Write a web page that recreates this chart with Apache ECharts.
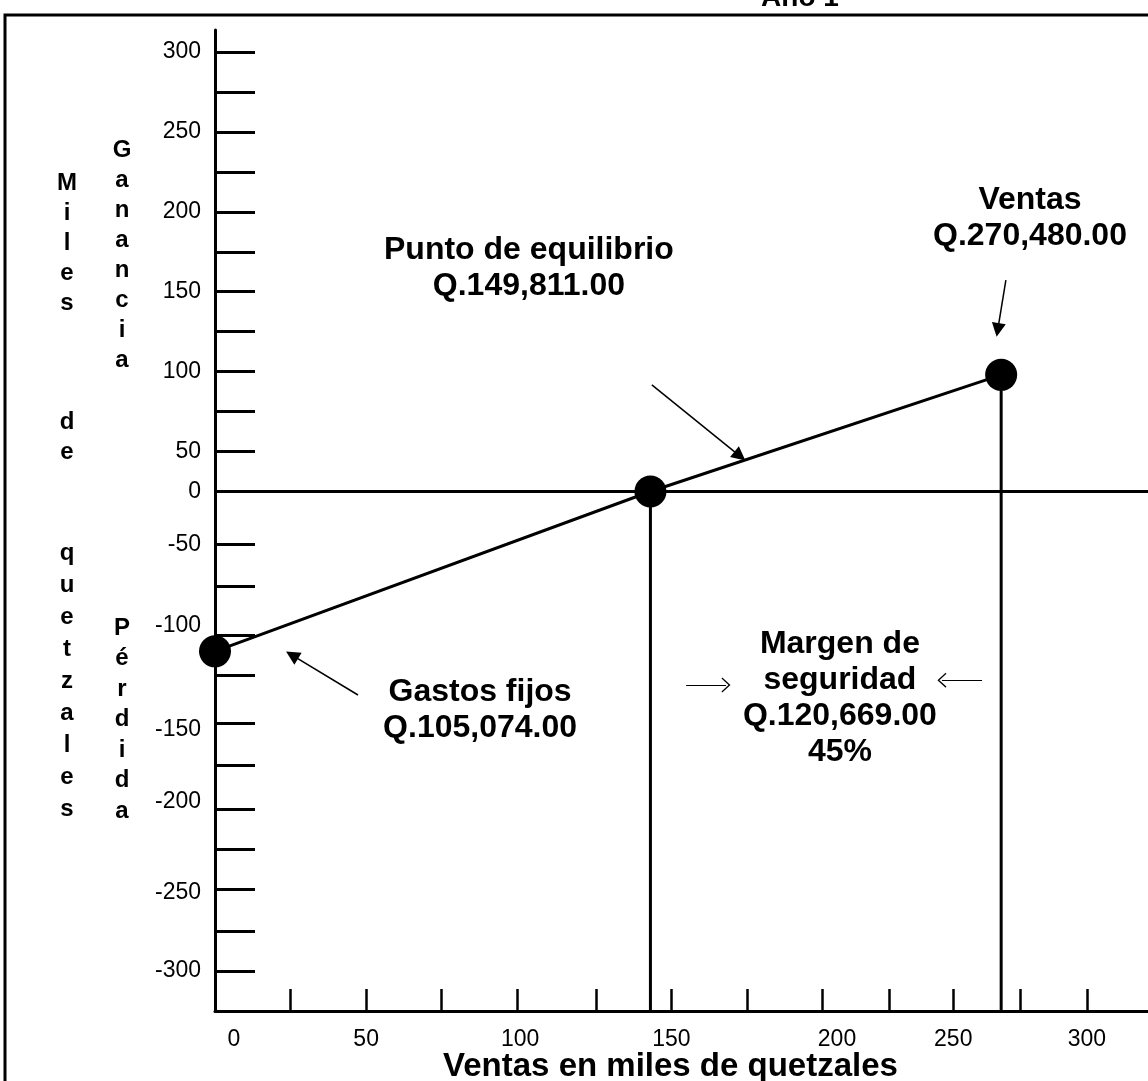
<!DOCTYPE html>
<html>
<head>
<meta charset="utf-8">
<title>Punto de equilibrio - Año 1</title>
<script src="https://cdn.jsdelivr.net/npm/echarts@6.0.0/dist/echarts.min.js"></script>
<style>
  html, body { margin: 0; padding: 0; background: #fff; }
  #chart { width: 1148px; height: 1081px; }
</style>
</head>
<body>
<div id="chart"></div>
<script>
// ventas en miles de Q y resultado (ganancia / pérdida)
const ventas = [0, 149.811, 270.48]
const resultado = [-100, 0, 73]

// marcas y etiquetas de los ejes (el dibujo original no es regular)
const yTicks = [275, 250, 225, 200, 175, 150, 125, 100, 75, 50, 25, -33, -59, -90, -115, -145, -171, -199, -224, -249, -275, -300]
const yLabelPos = [275, 225, 175, 125, 75, 25, 0, -33, -84, -149, -194, -251, -300]
const yLabels = ['300', '250', '200', '150', '100', '50', '0', '-50', '-100', '-150', '-200', '-250', '-300']
const xTicks = [26, 52, 78, 104, 131, 157, 183, 209, 232, 254, 277, 300]
const xLabelPos = [6.5, 52, 105, 157, 214, 254, 300]
const xLabels = ['0', '50', '100', '150', '200', '250', '300']

// textos de las anotaciones
const notas = ['Punto de equilibrio\nQ.149,811.00', 'Ventas\nQ.270,480.00', 'Gastos fijos\nQ.105,074.00', 'Margen de\nseguridad\nQ.120,669.00\n45%']
const notasPos = [[108, 140], [280.4, 171], [91.2, -137], [215, -129]]
// flechas: desde / hasta
const flechasDesde = [[150.3, 66.7], [272.1, 132.3], [49.2, -127.3]]
const flechasHasta = [[180.6, 22.2], [269.3, 101.1], [26.5, -102.3]]
// flechas finas del margen de seguridad
const margenDesde = [[162.1, -121], [263.9, -118]]
const margenHasta = [[175.8, -121], [250.1, -118]]

const yMin = -325
const FONT = '"Liberation Sans", Arial, sans-serif'
const negro = '#000'
// punta abierta (chevron) para las flechas finas
const chevron = 'path://M0,10 L10,0 L20,10 L18.6,11 L10,2.4 L1.4,11 Z'

const chart = echarts.init(document.getElementById('chart'))

function columna(texto, x, y, alto) {
    return {
        type: 'text', x: x, y: y,
        style: { text: texto.split('').join('\n'), textAlign: 'center', font: 'bold 24px ' + FONT, lineHeight: alto || 30, fill: negro }
    }
}

chart.setOption({
    animation: false,
    backgroundColor: '#fff',
    grid: { left: 215, right: 0, top: 30, bottom: 70, outerBoundsMode: 'none' },
    xAxis: {
        type: 'value',
        min: 0,
        max: 321,
        axisLine: { onZero: false, lineStyle: { color: negro, width: 3 } },
        axisTick: { inside: true, length: 22, customValues: xTicks, lineStyle: { color: negro, width: 2.5 } },
        axisLabel: {
            customValues: xLabelPos,
            formatter: v => xLabels[xLabelPos.indexOf(v)] || '',
            color: negro, fontSize: 23, fontFamily: FONT, margin: 17
        },
        splitLine: { show: false },
        name: 'Ventas en miles de quetzales',
        nameLocation: 'middle',
        nameGap: 39,
        nameMoveOverlap: false,
        nameTextStyle: { color: negro, fontSize: 33, fontWeight: 'bold', fontFamily: FONT, padding: [0, 22, 0, 0] }
    },
    yAxis: {
        type: 'value',
        min: yMin,
        max: 288.75,
        axisLine: { onZero: false, lineStyle: { color: negro, width: 3 } },
        axisTick: { inside: true, length: 40, customValues: yTicks, lineStyle: { color: negro, width: 3 } },
        axisLabel: {
            customValues: yLabelPos,
            formatter: v => {
                const i = yLabelPos.indexOf(v)
                return i < 0 ? '' : yLabels[i]
            },
            color: negro, fontSize: 23, fontFamily: FONT, margin: 14
        },
        splitLine: { show: false }
    },
    graphic: [
        {
            type: 'rect', z: 100, silent: true,
            shape: { x: 5, y: 15, width: 1400, height: 1400 },
            style: { fill: 'none', stroke: negro, lineWidth: 3 }
        },
        {
            type: 'text', x: 800, y: -16,
            style: { text: 'Año 1', textAlign: 'center', font: 'bold 28px ' + FONT, fill: negro }
        },
        columna('Miles', 67, 168),
        columna('de', 67, 407),
        columna('quetzales', 67, 537, 32),
        columna('Ganancia', 122, 135),
        columna('Pérdida', 122, 613, 30.5)
    ],
    series: [
        {
            name: 'equilibrio',
            type: 'line',
            data: ventas.map((v, i) => [v, resultado[i]]),
            symbol: 'circle',
            symbolSize: 32,
            itemStyle: { color: negro },
            lineStyle: { color: negro, width: 3 },
            z: 5,
            markLine: {
                silent: true,
                symbol: ['none', 'none'],
                label: { show: false },
                lineStyle: { color: negro, width: 3, type: 'solid' },
                data: [{ yAxis: 0 }]
            }
        },
        {
            name: 'linea equilibrio',
            type: 'line',
            data: [[ventas[1], resultado[1]], [ventas[1], yMin]],
            symbol: 'none',
            lineStyle: { color: negro, width: 3 },
            z: 3
        },
        {
            name: 'linea ventas',
            type: 'line',
            data: [[ventas[2], resultado[2]], [ventas[2], yMin]],
            symbol: 'none',
            lineStyle: { color: negro, width: 3 },
            z: 3
        },
        {
            name: 'anotaciones',
            type: 'scatter',
            data: [],
            markPoint: {
                symbol: 'circle',
                symbolSize: 1,
                itemStyle: { color: 'rgba(0,0,0,0)' },
                label: {
                    show: true, position: 'inside', color: negro,
                    fontSize: 32, fontWeight: 'bold', fontFamily: FONT, lineHeight: 36, align: 'center'
                },
                data: notas.map((t, i) => ({ coord: notasPos[i], value: t, label: { formatter: t } }))
            },
            markLine: {
                silent: true,
                symbol: ['none', 'triangle'],
                symbolSize: 14,
                label: { show: false },
                lineStyle: { color: negro, width: 1.5, type: 'solid' },
                data: flechasDesde.map((d, i) => [{ coord: d }, { coord: flechasHasta[i] }])
            }
        },
        {
            name: 'flechas margen',
            type: 'scatter',
            data: [],
            markLine: {
                silent: true,
                symbol: ['none', chevron],
                symbolSize: [15, 9],
                label: { show: false },
                lineStyle: { color: negro, width: 1.2, type: 'solid' },
                data: margenDesde.map((d, i) => [{ coord: d }, { coord: margenHasta[i] }])
            }
        }
    ]
})
</script>
</body>
</html>
